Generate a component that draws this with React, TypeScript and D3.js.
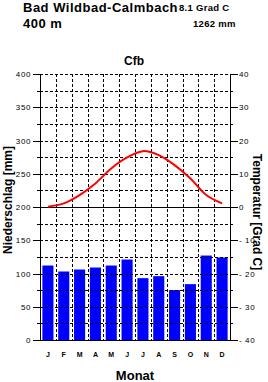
import React, { useEffect, useRef } from 'react';
import * as d3 from 'd3';

const months = ['J', 'F', 'M', 'A', 'M', 'J', 'J', 'A', 'S', 'O', 'N', 'D'];
const precipitation = [112, 103, 106, 109, 112, 121, 93, 96, 75, 84, 127, 124];
const temperature = [0.1, 1.1, 3.6, 7.1, 11.6, 14.9, 16.8, 15.6, 12.6, 8.6, 3.6, 1.1];
const precipTicks = [0, 50, 100, 150, 200, 250, 300, 350, 400];
const tempTicks = [-40, -30, -20, -10, 0, 10, 20, 30, 40];

const App: React.FC = () => {
  const containerRef = useRef<HTMLDivElement | null>(null);

  useEffect(() => {
    if (!containerRef.current) return;
    containerRef.current.innerHTML = '';

    const width = 268;
    const height = 382;
    const margin = { top: 74, right: 38, bottom: 42, left: 40 };
    const graphWidth = width - margin.left - margin.right;
    const graphHeight = height - margin.top - margin.bottom;
    const font = '"Liberation Sans", Arial, Helvetica, sans-serif';

    const svg = d3
      .select(containerRef.current)
      .append('svg')
      .attr('width', width)
      .attr('height', height)
      .style('position', 'absolute')
      .style('left', 0)
      .style('top', 0)
      .style('background', '#fff')
      .style('font-family', font);

    const g = svg.append('g').attr('transform', `translate(${margin.left}, ${margin.top})`);

    // Scales
    const xScale = d3
      .scaleBand<number>()
      .domain(d3.range(12))
      .range([0, graphWidth])
      .paddingInner(0.3)
      .paddingOuter(0.15);
    const step = xScale.step();
    const yScale = d3.scaleLinear().domain([0, 400]).range([graphHeight, 0]);
    const tScale = d3.scaleLinear().domain([-40, 40]).range([graphHeight, 0]);

    // Bars
    g.selectAll('rect.bar')
      .data(precipitation)
      .enter()
      .append('rect')
      .attr('class', 'bar')
      .attr('x', (_d, i) => xScale(i) as number)
      .attr('y', (d) => yScale(d))
      .attr('width', xScale.bandwidth())
      .attr('height', (d) => graphHeight - yScale(d))
      .attr('fill', '#0000ff');

    // Dashed grid
    const hLines = d3.range(25, 401, 25).filter((v) => v !== 200);
    g.selectAll('line.hgrid')
      .data(hLines)
      .enter()
      .append('line')
      .attr('x1', 0)
      .attr('x2', graphWidth)
      .attr('y1', (d) => Math.round(yScale(d)) + 0.5)
      .attr('y2', (d) => Math.round(yScale(d)) + 0.5)
      .attr('stroke', '#000')
      .attr('stroke-dasharray', '3,2');
    g.selectAll('line.vgrid')
      .data(d3.range(1, 12))
      .enter()
      .append('line')
      .attr('x1', (d) => Math.round(d * step) + 0.5)
      .attr('x2', (d) => Math.round(d * step) + 0.5)
      .attr('y1', 0)
      .attr('y2', graphHeight)
      .attr('stroke', '#000')
      .attr('stroke-dasharray', '3,2');

    // Zero line and axes
    const solid = (x1: number, y1: number, x2: number, y2: number) =>
      g.append('line').attr('x1', x1).attr('y1', y1).attr('x2', x2).attr('y2', y2).attr('stroke', '#000');
    solid(0, Math.round(yScale(200)) + 0.5, graphWidth, Math.round(yScale(200)) + 0.5);
    solid(0, graphHeight + 0.5, graphWidth, graphHeight + 0.5);
    solid(0.5, 0, 0.5, graphHeight);
    solid(graphWidth + 0.5, 0, graphWidth + 0.5, graphHeight);

    // Left ticks
    d3.range(0, 401, 25).forEach((v) => {
      const y = Math.round(yScale(v)) + 0.5;
      solid(v % 50 === 0 ? -7 : -3, y, 0, y);
    });
    g.selectAll('text.ltick')
      .data(precipTicks)
      .enter()
      .append('text')
      .attr('x', -9)
      .attr('y', (d) => yScale(d) + 3)
      .attr('text-anchor', 'end')
      .attr('font-size', 8)
      .attr('letter-spacing', 0.6)
      .text((d) => d);

    // Right ticks
    d3.range(-40, 41, 5).forEach((v) => {
      const y = Math.round(tScale(v)) + 0.5;
      solid(graphWidth, y, graphWidth + (v % 10 === 0 ? 8 : 3), y);
    });
    g.selectAll('text.rtick')
      .data(tempTicks)
      .enter()
      .append('text')
      .attr('x', graphWidth + 9)
      .attr('y', (d) => tScale(d) + 3)
      .attr('font-size', 8)
      .attr('letter-spacing', 0.6)
      .text((d) => (d < 0 ? `- ${-d}` : `${d}`));

    // Temperature line
    const line = d3
      .line<number>()
      .x((_d, i) => (xScale(i) as number) + xScale.bandwidth() / 2)
      .y((d) => tScale(d))
      .curve(d3.curveCatmullRom);
    g.append('path')
      .datum(temperature)
      .attr('d', line)
      .attr('fill', 'none')
      .attr('stroke', '#ff0000')
      .attr('stroke-width', 2);

    // Month labels
    g.selectAll('text.month')
      .data(months)
      .enter()
      .append('text')
      .attr('x', (_d, i) => (xScale(i) as number) + xScale.bandwidth() / 2)
      .attr('y', graphHeight + 17)
      .attr('text-anchor', 'middle')
      .attr('font-size', 7)
      .attr('font-weight', 'bold')
      .text((d) => d);

    // Titles
    const text = (x: number, y: number, s: string, size: number, anchor = 'start', spacing = 0) =>
      svg
        .append('text')
        .attr('x', x)
        .attr('y', y)
        .attr('font-size', size)
        .attr('font-weight', 'bold')
        .attr('text-anchor', anchor)
        .attr('letter-spacing', spacing)
        .text(s);
    text(23, 12, 'Bad Wildbad-Calmbach', 13, 'start', 0.5);
    text(23, 28, '400 m', 13, 'start', 0.5);
    text(179, 11, '8.1 Grad C', 9.5, 'start', 0.3);
    text(193, 27, '1262 mm', 9.5, 'start', 0.3);
    text(134, 65, 'Cfb', 12, 'middle');
    text(135, 380, 'Monat', 13, 'middle');

    svg
      .append('text')
      .attr('transform', 'translate(12, 200) rotate(-90)')
      .attr('text-anchor', 'middle')
      .attr('font-size', 12)
      .attr('font-weight', 'bold')
      .text('Niederschlag [mm]');
    svg
      .append('text')
      .attr('transform', 'translate(253, 212) rotate(90)')
      .attr('text-anchor', 'middle')
      .attr('font-size', 12)
      .attr('font-weight', 'bold')
      .text('Temperatur [Grad C]');
  }, []);

  return <div ref={containerRef} />;
};

export default App;
